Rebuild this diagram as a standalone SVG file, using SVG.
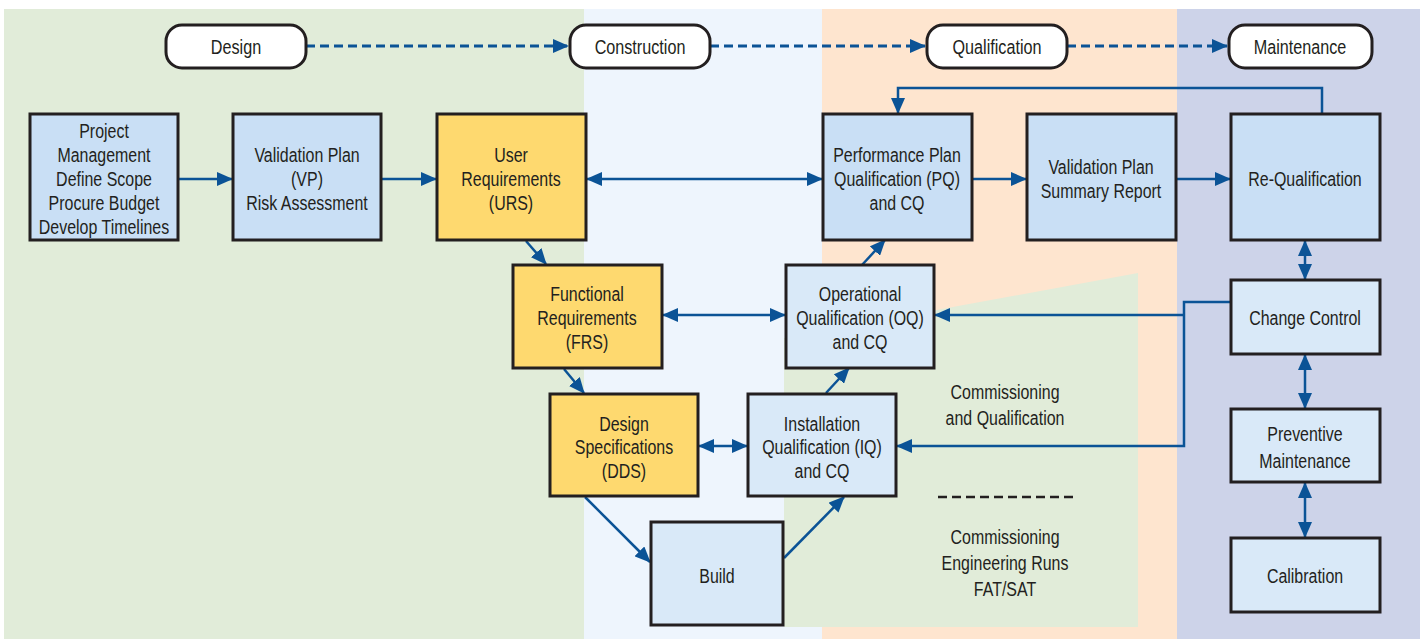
<svg xmlns="http://www.w3.org/2000/svg" width="1427" height="639" viewBox="0 0 1427 639">
<style>
.bx{stroke:#231f20;stroke-width:3}
.b1{fill:#c9dff5}
.b2{fill:#d9e9f8}
.y{fill:#fed96f}
.pill{fill:#fff;stroke:#231f20;stroke-width:3}
text{font-family:"Liberation Sans",Arial,sans-serif;font-size:21px;fill:#231f20;text-anchor:middle}
.c{fill:none;stroke:#0b5396;stroke-width:2.5}
.d{fill:none;stroke:#0b5396;stroke-width:3;stroke-dasharray:9 5}
</style>
<defs>
<marker id="ah" viewBox="0 0 16 14" refX="15" refY="7" markerWidth="16" markerHeight="14" markerUnits="userSpaceOnUse" orient="auto-start-reverse">
<path d="M0,0 L16,7 L0,14 z" fill="#0b5396"/>
</marker>
</defs>
<g id="background">
<rect x="4" y="9" width="580" height="630" fill="#e1ecd9"/>
<rect x="584" y="9" width="238" height="630" fill="#eef5fd"/>
<rect x="822" y="9" width="355" height="630" fill="#fee5cf"/>
<rect x="1177" y="9" width="243" height="630" fill="#cdd3e9"/>
<polygon points="784,338 1138,273 1138,627 784,627" fill="#e1ecd9"/>
</g>
<g id="connectors">
<path class="d" d="M306,46 H568" marker-end="url(#ah)"/>
<path class="d" d="M710,46 H925" marker-end="url(#ah)"/>
<path class="d" d="M1067,46 H1227" marker-end="url(#ah)"/>
<path class="c" d="M178,179 H232" marker-end="url(#ah)"/>
<path class="c" d="M381,179 H436" marker-end="url(#ah)"/>
<path class="c" d="M587,179 H822" marker-start="url(#ah)" marker-end="url(#ah)"/>
<path class="c" d="M972,179 H1026" marker-end="url(#ah)"/>
<path class="c" d="M1176,179 H1230" marker-end="url(#ah)"/>
<path class="c" d="M1322,113 V88 H898 V113" marker-end="url(#ah)"/>
<path class="c" d="M1305,241 V279" marker-start="url(#ah)" marker-end="url(#ah)"/>
<path class="c" d="M1305,355 V408" marker-start="url(#ah)" marker-end="url(#ah)"/>
<path class="c" d="M1305,483 V537" marker-start="url(#ah)" marker-end="url(#ah)"/>
<path class="c" d="M1231,302 H1184 V446 H897" marker-end="url(#ah)"/>
<path class="c" d="M1184,315 H935" marker-end="url(#ah)"/>
<path class="c" d="M526,241 L546,264" marker-end="url(#ah)"/>
<path class="c" d="M564,369 L584,393" marker-end="url(#ah)"/>
<path class="c" d="M663,315 H785" marker-start="url(#ah)" marker-end="url(#ah)"/>
<path class="c" d="M699,446 H747" marker-start="url(#ah)" marker-end="url(#ah)"/>
<path class="c" d="M585,497 L650,562" marker-end="url(#ah)"/>
<path class="c" d="M784,558 L844,497" marker-end="url(#ah)"/>
<path class="c" d="M826,393 L849,368" marker-end="url(#ah)"/>
<path class="c" d="M862,265 L885,240" marker-end="url(#ah)"/>
<path d="M938,497 H1073" fill="none" stroke="#231f20" stroke-width="2.5" stroke-dasharray="9 5"/>
</g>
<g id="stage-design"><rect class="pill" x="166" y="25" width="140" height="43" rx="16"/><g transform="matrix(.77 0 0 1 236 0)"><text y="54">Design</text></g></g>
<g id="stage-construction"><rect class="pill" x="570" y="25" width="140" height="43" rx="16"/><g transform="matrix(.77 0 0 1 640 0)"><text y="54">Construction</text></g></g>
<g id="stage-qualification"><rect class="pill" x="927" y="25" width="140" height="43" rx="16"/><g transform="matrix(.77 0 0 1 997 0)"><text y="54">Qualification</text></g></g>
<g id="stage-maintenance"><rect class="pill" x="1229" y="25" width="143" height="43" rx="16"/><g transform="matrix(.77 0 0 1 1300 0)"><text y="54">Maintenance</text></g></g>
<g id="project-management"><rect class="bx b1" x="30" y="114" width="148" height="126"/>
<g transform="matrix(.76 0 0 1 104 0)"><text y="138">Project</text><text y="162">Management</text><text y="186">Define Scope</text><text y="210">Procure Budget</text><text y="234">Develop Timelines</text></g></g>
<g id="validation-plan"><rect class="bx b1" x="233" y="114" width="148" height="126"/>
<g transform="matrix(.76 0 0 1 307 0)"><text y="162">Validation Plan</text><text y="186">(VP)</text><text y="210">Risk Assessment</text></g></g>
<g id="user-requirements"><rect class="bx y" x="437" y="114" width="149" height="126"/>
<g transform="matrix(.76 0 0 1 511 0)"><text y="162">User</text><text y="186">Requirements</text><text y="210">(URS)</text></g></g>
<g id="performance-qualification"><rect class="bx b1" x="823" y="114" width="149" height="126"/>
<g transform="matrix(.76 0 0 1 897 0)"><text y="162">Performance Plan</text><text y="186">Qualification (PQ)</text><text y="210">and CQ</text></g></g>
<g id="summary-report"><rect class="bx b1" x="1027" y="114" width="149" height="126"/>
<g transform="matrix(.76 0 0 1 1101 0)"><text y="174">Validation Plan</text><text y="198">Summary Report</text></g></g>
<g id="re-qualification"><rect class="bx b1" x="1231" y="114" width="149" height="126"/>
<g transform="matrix(.76 0 0 1 1305 0)"><text y="186">Re-Qualification</text></g></g>
<g id="functional-requirements"><rect class="bx y" x="513" y="265" width="149" height="103"/>
<g transform="matrix(.76 0 0 1 587 0)"><text y="301">Functional</text><text y="325">Requirements</text><text y="349">(FRS)</text></g></g>
<g id="operational-qualification"><rect class="bx b2" x="786" y="265" width="148" height="103"/>
<g transform="matrix(.76 0 0 1 860 0)"><text y="301">Operational</text><text y="325">Qualification (OQ)</text><text y="349">and CQ</text></g></g>
<g id="change-control"><rect class="bx b2" x="1231" y="280" width="149" height="74"/>
<g transform="matrix(.76 0 0 1 1305 0)"><text y="325">Change Control</text></g></g>
<g id="design-specifications"><rect class="bx y" x="550" y="394" width="148" height="102"/>
<g transform="matrix(.76 0 0 1 624 0)"><text y="431">Design</text><text y="454">Specifications</text><text y="478">(DDS)</text></g></g>
<g id="installation-qualification"><rect class="bx b2" x="748" y="394" width="148" height="102"/>
<g transform="matrix(.76 0 0 1 822 0)"><text y="431">Installation</text><text y="454">Qualification (IQ)</text><text y="478">and CQ</text></g></g>
<g id="preventive-maintenance"><rect class="bx b2" x="1231" y="409" width="149" height="73"/>
<g transform="matrix(.76 0 0 1 1305 0)"><text y="441">Preventive</text><text y="468">Maintenance</text></g></g>
<g id="build"><rect class="bx b2" x="651" y="522" width="132" height="103"/>
<g transform="matrix(.76 0 0 1 717 0)"><text y="583">Build</text></g></g>
<g id="calibration"><rect class="bx b2" x="1231" y="538" width="149" height="74"/>
<g transform="matrix(.76 0 0 1 1305 0)"><text y="583">Calibration</text></g></g>
<g id="labels" transform="matrix(.76 0 0 1 1005 0)">
<text y="399">Commissioning</text><text y="425">and Qualification</text>
<text y="544">Commissioning</text><text y="570">Engineering Runs</text><text y="596">FAT/SAT</text>
</g>
</svg>
